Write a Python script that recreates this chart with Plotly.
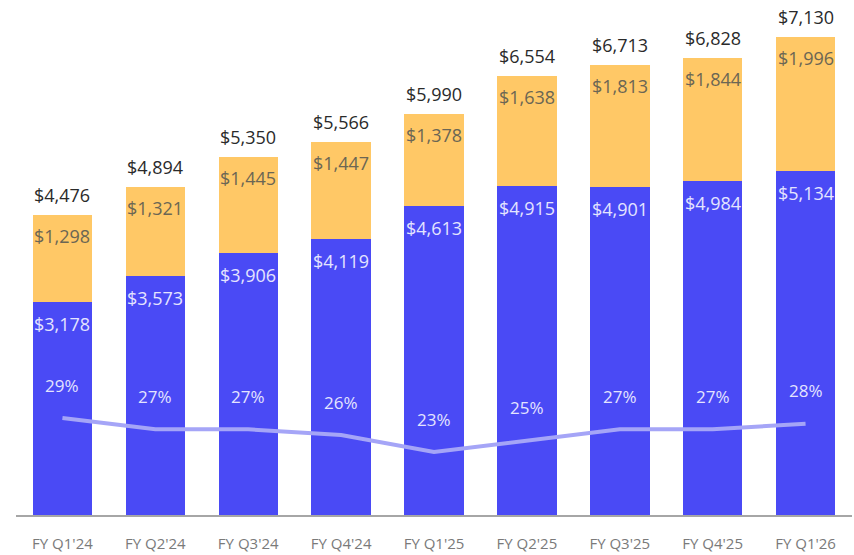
import plotly.graph_objects as go

categories = ["FY Q1'24", "FY Q2'24", "FY Q3'24", "FY Q4'24", "FY Q1'25",
              "FY Q2'25", "FY Q3'25", "FY Q4'25", "FY Q1'26"]
blue_vals = [3178, 3573, 3906, 4119, 4613, 4915, 4901, 4984, 5134]
yellow_vals = [1298, 1321, 1445, 1447, 1378, 1638, 1813, 1844, 1996]
totals = [4476, 4894, 5350, 5566, 5990, 6554, 6713, 6828, 7130]
pct_vals = [29, 27, 27, 26, 23, 25, 27, 27, 28]

BLUE = "#4A4AF5"
YELLOW = "#FFC866"
LINE = "#A5A5F7"
FONT = "Open Sans"

fig = go.Figure()
fig.add_trace(go.Bar(x=categories, y=blue_vals, marker=dict(color=BLUE, line=dict(width=0)),
                     width=0.64, hoverinfo="skip"))
fig.add_trace(go.Bar(x=categories, y=yellow_vals, marker=dict(color=YELLOW, line=dict(width=0)),
                     width=0.64, hoverinfo="skip"))
fig.add_trace(go.Scatter(x=categories, y=pct_vals, mode="lines", yaxis="y2",
                         line=dict(color=LINE, width=4), hoverinfo="skip"))

ann = []
for c, b, yv, t, p in zip(categories, blue_vals, yellow_vals, totals, pct_vals):
    top = b + yv
    ann.append(dict(x=c, y=top, text=f"${t:,}", showarrow=False, yshift=20,
                    font=dict(family=FONT, size=18, color="#2a2a2a")))
    ann.append(dict(x=c, y=top, text=f"${yv:,}", showarrow=False, yshift=-21,
                    font=dict(family=FONT, size=18, color="#6b6654")))
    ann.append(dict(x=c, y=b, text=f"${b:,}", showarrow=False, yshift=-22,
                    font=dict(family=FONT, size=18, color="#E4E4FF")))
    ann.append(dict(x=c, y=p, yref="y2", text=f"{p}%", showarrow=False, yshift=33,
                    font=dict(family=FONT, size=17, color="#E4E4FF")))

fig.update_layout(
    width=854, height=555,
    barmode="stack",
    showlegend=False,
    plot_bgcolor="white", paper_bgcolor="white",
    margin=dict(l=16, r=2, t=0, b=40),
    xaxis=dict(range=[-0.5, 8.5], showgrid=False, showline=True, linecolor="#A6A6A6",
               linewidth=2, ticks="", ticklabelstandoff=14,
               tickfont=dict(family=FONT, size=15, color="#7a7a7a")),
    yaxis=dict(range=[0, 7687], visible=False, showgrid=False),
    yaxis2=dict(range=[11.9, 102.7], overlaying="y", visible=False, showgrid=False),
    annotations=ann,
)

fig.write_html("out.html", config={"displayModeBar": False},
               post_script="document.body.style.margin='0';")
